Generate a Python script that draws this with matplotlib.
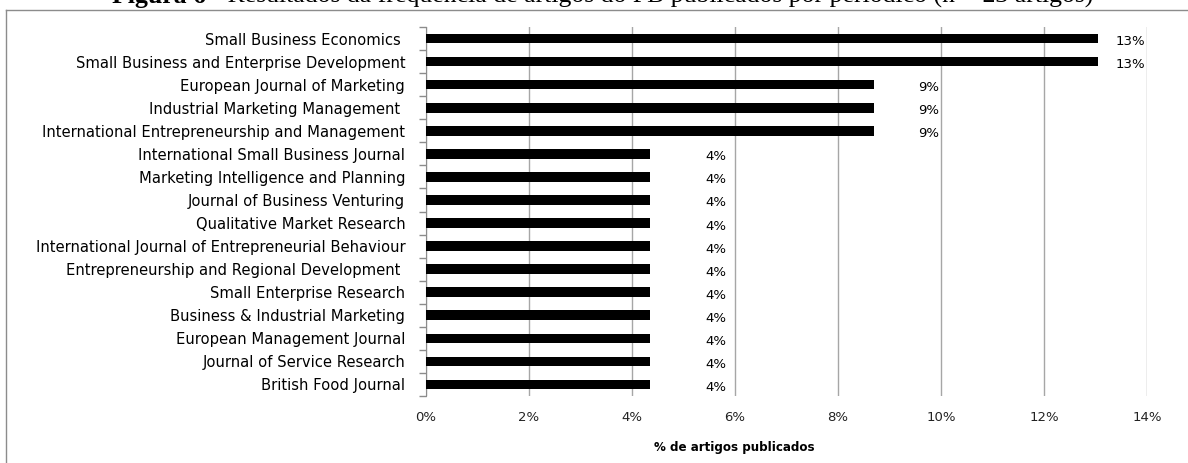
"""Bar chart: frequency of PB articles per journal (n = 23 articles)."""

import numpy as np
import matplotlib
matplotlib.use("Agg")
import matplotlib.pyplot as plt
from matplotlib.ticker import FixedLocator, FuncFormatter

journals = [
    "Small Business Economics ",
    "Small Business and Enterprise Development",
    "European Journal of Marketing",
    "Industrial Marketing Management ",
    "International Entrepreneurship and Management",
    "International Small Business Journal",
    "Marketing Intelligence and Planning",
    "Journal of Business Venturing",
    "Qualitative Market Research",
    "International Journal of Entrepreneurial Behaviour",
    "Entrepreneurship and Regional Development ",
    "Small Enterprise Research",
    "Business & Industrial Marketing",
    "European Management Journal",
    "Journal of Service Research",
    "British Food Journal",
]
n_articles = [3, 3, 2, 2, 2, 1, 1, 1, 1, 1, 1, 1, 1, 1, 1, 1]
n_total = 23
value_labels = ["13%", "13%", "9%", "9%", "9%", "4%", "4%", "4%",
                "4%", "4%", "4%", "4%", "4%", "4%", "4%", "4%"]

pct = [100.0 * a / n_total for a in n_articles]

W, H, DPI = 1188, 463, 100
FONT = "DejaVu Sans"
fig = plt.figure(figsize=(W / DPI, H / DPI), dpi=DPI)

# chart border (only top and left visible in the crop)
fig.add_artist(plt.Line2D([6 / W, 6 / W], [0, 1 - 10 / H], transform=fig.transFigure,
                          color="#8c8c8c", lw=1))
fig.add_artist(plt.Line2D([6 / W, 1], [1 - 10 / H, 1 - 10 / H], transform=fig.transFigure,
                          color="#8c8c8c", lw=1))

# caption, clipped by the top of the image as in the source
t1 = fig.text(112 / W, 1 - 3 / H, "Figura 6", family="Liberation Serif",
              fontsize=18.5, fontweight="bold", va="baseline")
fig.canvas.draw()
bb = t1.get_window_extent()
fig.text(bb.x1 / W, 1 - 3 / H,
         " - Resultados da frequência de artigos do PB publicados por periódico (n = 23 artigos)",
         family="Liberation Serif", fontsize=18.5, va="baseline")

ax = fig.add_axes([426 / W, 1 - 396 / H, (1147 - 426) / W, (396 - 27) / H])
y = np.arange(len(journals))
ax.barh(y, pct, height=0.42, color="black", zorder=3)

ax.set_xlim(0, 14)
ax.set_ylim(len(journals) - 0.5, -0.5)

ax.set_xticks(np.arange(0, 15, 2))
ax.xaxis.set_major_formatter(FuncFormatter(lambda v, p: f"{v:.0f}%"))
ax.tick_params(axis="x", length=0, pad=11, labelsize=9.5, labelcolor="#222222")
for lab in ax.get_xticklabels():
    lab.set_family(FONT)

ax.set_yticks(y)
ax.set_yticklabels(journals, family=FONT, fontsize=10.6)
ax.tick_params(axis="y", which="major", length=0, pad=15)
ax.yaxis.set_minor_locator(FixedLocator(np.arange(-0.5, len(journals), 1)))
ax.tick_params(axis="y", which="minor", length=5, color="#8c8c8c", width=1)

ax.grid(axis="x", color="#a6a6a6", lw=1, zorder=0)
for s in ["top", "right", "bottom"]:
    ax.spines[s].set_visible(False)
ax.spines["left"].set_color("#8c8c8c")

ax.set_xlabel("% de artigos publicados", family=FONT, fontsize=8.6,
              fontweight="bold")
ax.xaxis.set_label_coords((734 - 426) / 721, -(447 - 396) / 369)
ax.xaxis.label.set_va("center")

label_dx = {"13%": 33, "9%": 55, "4%": 66}
for yi, v, lab in zip(y, pct, value_labels):
    ax.annotate(lab, (v, yi), xytext=(label_dx[lab], -3), textcoords="offset pixels",
                ha="center", va="center", fontsize=9.5, family=FONT)

fig.savefig("out.png", dpi=DPI)
